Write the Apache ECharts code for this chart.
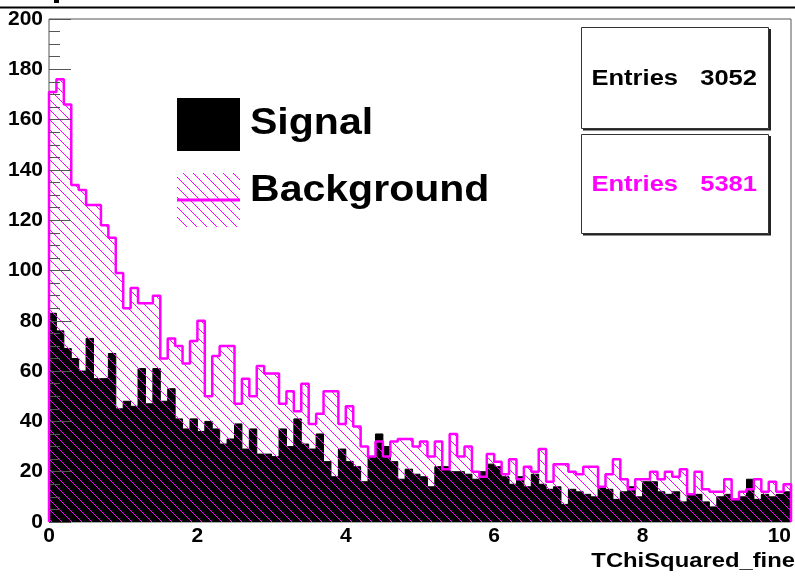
<!DOCTYPE html>
<html>
<head>
<meta charset="utf-8">
<script src="https://cdn.jsdelivr.net/npm/echarts@6/dist/echarts.min.js"></script>
<style>
  html, body { margin: 0; padding: 0; background: #fff; }
  #chart { width: 795px; height: 577px; }
</style>
</head>
<body>
<div id="chart"></div>
<script>
// Histogram binning of TChiSquared_fine: 100 bins over [0, 10]
const binLow = 0;
const binHigh = 10;
const nBins = 100;

// Bin contents, signal sample
const signalCounts = [
  83, 76, 69, 65, 60, 73, 57, 57, 67, 45,
  48, 46, 61, 47, 61, 48, 53, 41, 37, 41,
  36, 40, 37, 31, 33, 39, 29, 37, 27, 27,
  26, 37, 30, 41, 31, 29, 35, 24, 18, 29,
  24, 22, 16, 26, 35, 30, 24, 17, 21, 19,
  18, 14, 22, 22, 20, 20, 19, 17, 20, 23,
  22, 18, 15, 18, 14, 19, 15, 13, 14, 7,
  13, 12, 11, 10, 14, 13, 9, 12, 14, 10,
  16, 16, 12, 11, 12, 8, 11, 11, 8, 6,
  10, 11, 9, 10, 17, 9, 11, 10, 11, 12
];

// Bin contents, background sample
const backgroundCounts = [
  171, 176, 166, 134, 132, 126, 126, 118, 113, 99,
  85, 93, 87, 87, 90, 65, 73, 70, 63, 72,
  80, 50, 66, 70, 70, 47, 57, 50, 62, 59,
  59, 47, 52, 44, 55, 39, 43, 52, 52, 39,
  46, 38, 30, 26, 32, 26, 32, 33, 33, 30,
  32, 26, 32, 21, 35, 26, 30, 20, 18, 27,
  24, 19, 25, 17, 22, 20, 29, 16, 23, 23,
  20, 19, 22, 22, 14, 19, 25, 17, 13, 17,
  17, 20, 17, 20, 18, 21, 11, 20, 13, 12,
  12, 17, 9, 12, 13, 17, 12, 16, 12, 15
];

// Axis tick labels
const xTicks = [0, 2, 4, 6, 8, 10];
const yTicks = [0, 20, 40, 60, 80, 100, 120, 140, 160, 180, 200];

const seriesNames = ['Signal', 'Background'];
const entries = [3052, 5381];
const axisTitle = 'TChiSquared_fine';

const FONT = '"Liberation Sans", Arial, Helvetica, sans-serif';
const MAGENTA = '#ff00ff';

// Turn bin contents into step-outline points (left edge of each bin, closed at both ends)
function stepPoints(counts) {
  const w = (binHigh - binLow) / nBins;
  const pts = [[binLow, 0]];
  counts.forEach((c, i) => pts.push([+(binLow + i * w).toFixed(4), c]));
  pts.push([binHigh, counts[counts.length - 1]]);
  pts.push([binHigh, 0]);
  return pts;
}

// Diagonal "\\\\" hatch tile with transparent background
function hatchPattern(color, spacing) {
  const c = document.createElement('canvas');
  c.width = spacing;
  c.height = spacing;
  const ctx = c.getContext('2d');
  ctx.strokeStyle = color;
  ctx.lineWidth = 1;
  ctx.beginPath();
  for (const k of [-spacing, 0, spacing]) {
    ctx.moveTo(k, 0);
    ctx.lineTo(k + spacing, spacing);
  }
  ctx.stroke();
  return { image: c, repeat: 'repeat' };
}

const hatch = hatchPattern(MAGENTA, 10);
const chart = echarts.init(document.getElementById('chart'), null, { renderer: 'canvas' });

function statsBox(y, h, color, n) {
  return [
    { type: 'polyline', shape: { points: [[583, y + h + 1], [770, y + h + 1], [770, y + 1.5]] },
      style: { stroke: '#222', lineWidth: 2, fill: null } },
    { type: 'rect', shape: { x: 581.5, y: y, width: 187, height: h },
      style: { fill: '#fff', stroke: '#333', lineWidth: 1 } },
    { type: 'text', x: 591.5, y: y + h / 2 + 0.5, scaleX: 1.16,
      style: { text: 'Entries', font: 'bold 22px ' + FONT, fill: color, align: 'left', verticalAlign: 'middle' } },
    { type: 'text', x: 757, y: y + h / 2 + 0.5, scaleX: 1.16,
      style: { text: String(n), font: 'bold 22px ' + FONT, fill: color, align: 'right', verticalAlign: 'middle' } }
  ];
}

const option = {
  animation: false,
  backgroundColor: '#fff',
  grid: {
    left: 49, right: 4, top: 19, bottom: 55,
    show: true, borderColor: '#555', borderWidth: 1, backgroundColor: 'transparent'
  },
  xAxis: {
    type: 'value',
    min: xTicks[0], max: xTicks[xTicks.length - 1], interval: xTicks[1] - xTicks[0],
    axisLine: { show: false },
    axisTick: { show: true, inside: true, length: 15, lineStyle: { color: '#555' } },
    minorTick: { show: true, splitNumber: 5, length: 8, lineStyle: { color: '#555' } },
    splitLine: { show: false },
    axisLabel: {
      fontSize: 21, fontWeight: 'bold', fontFamily: FONT, color: '#000', margin: 4,
      alignMaxLabel: 'right'
    }
  },
  yAxis: {
    type: 'value',
    min: yTicks[0], max: yTicks[yTicks.length - 1], interval: yTicks[1] - yTicks[0],
    z: 10,
    axisLine: { show: false },
    axisTick: { show: true, inside: true, length: 22, lineStyle: { color: '#555', width: 1 } },
    minorTick: { show: true, splitNumber: 4, length: 11, lineStyle: { color: '#555', width: 1 } },
    splitLine: { show: false },
    axisLabel: { fontSize: 21, fontWeight: 'bold', fontFamily: FONT, color: '#000', margin: 6 }
  },
  series: [
    {
      name: seriesNames[0],
      type: 'line',
      step: 'end',
      z: 2,
      symbol: 'none',
      data: stepPoints(signalCounts),
      lineStyle: { color: '#000', width: 1 },
      areaStyle: { color: '#000', opacity: 1 }
    },
    {
      name: seriesNames[1],
      type: 'line',
      step: 'end',
      z: 3,
      symbol: 'none',
      data: stepPoints(backgroundCounts),
      lineStyle: { color: MAGENTA, width: 2.5 },
      areaStyle: { color: hatch, opacity: 1 }
    }
  ],
  graphic: [
    // pad edge above the frame
    { type: 'line', shape: { x1: 0, y1: 7.5, x2: 795, y2: 7.5 }, style: { stroke: '#000', lineWidth: 2 } },
    { type: 'rect', shape: { x: 54, y: 0, width: 5, height: 3 }, style: { fill: '#000' } },
    // legend
    { type: 'rect', shape: { x: 177, y: 98, width: 63, height: 53 }, style: { fill: '#000' } },
    { type: 'rect', shape: { x: 177, y: 173, width: 63, height: 54 }, style: { fill: hatch } },
    { type: 'line', shape: { x1: 177, y1: 200, x2: 240, y2: 200 }, style: { stroke: MAGENTA, lineWidth: 3 } },
    { type: 'text', x: 250, y: 124, scaleX: 1.14,
      style: { text: seriesNames[0], font: 'bold 36px ' + FONT, fill: '#000', align: 'left', verticalAlign: 'middle' } },
    { type: 'text', x: 250, y: 191, scaleX: 1.14,
      style: { text: seriesNames[1], font: 'bold 36px ' + FONT, fill: '#000', align: 'left', verticalAlign: 'middle' } },
    // statistics boxes
    ...statsBox(27.5, 101, '#000', entries[0]),
    ...statsBox(134.5, 99, MAGENTA, entries[1]),
    // x axis title
    { type: 'text', x: 795, y: 561, scaleX: 1.19,
      style: { text: axisTitle, font: 'bold 20px ' + FONT, fill: '#000', align: 'right', verticalAlign: 'middle' } }
  ]
};

chart.setOption(option);
</script>
</body>
</html>
